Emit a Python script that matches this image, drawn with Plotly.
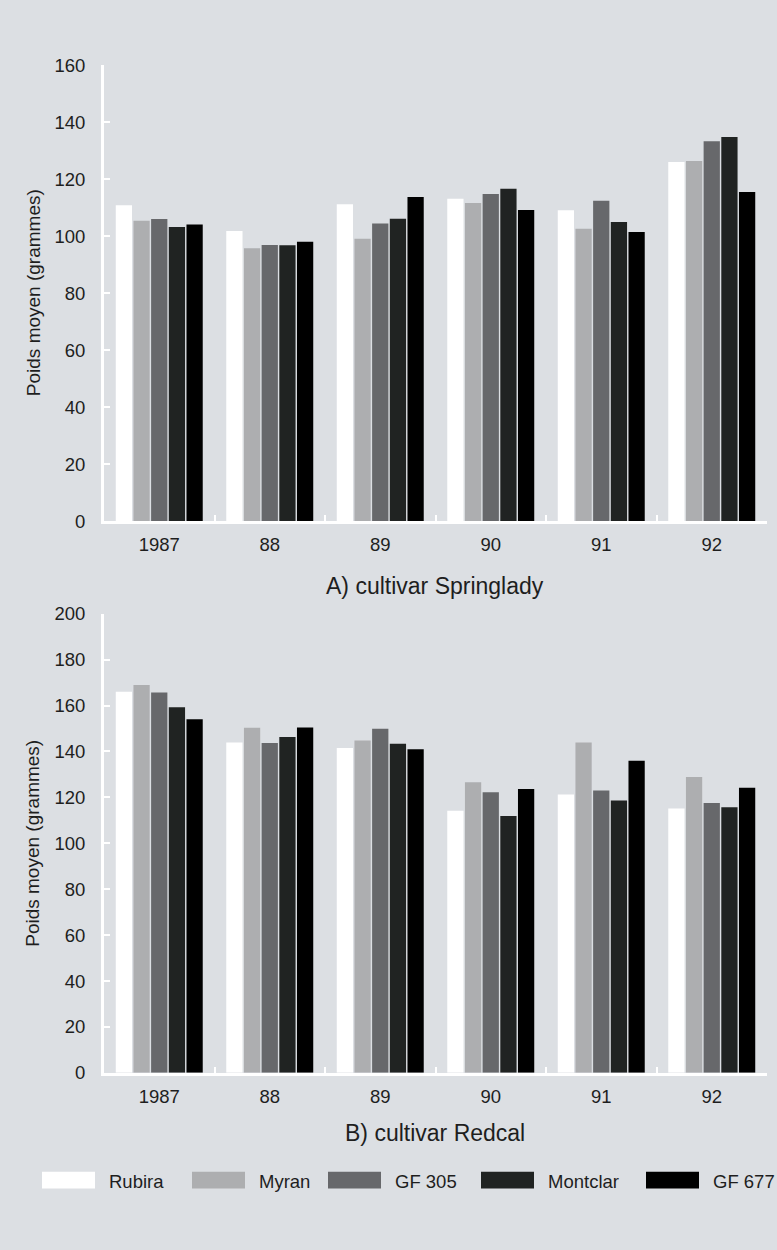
import plotly.graph_objects as go
from plotly.subplots import make_subplots

# Years (category labels on the x axis)
years = ["1987", "88", "89", "90", "91", "92"]

# Rootstocks and their fill colours
rootstocks = ["Rubira", "Myran", "GF 305", "Montclar", "GF 677"]
bar_colors = ["#ffffff", "#adaeb0", "#67686b", "#202322", "#000000"]

# A) cultivar Springlady - mean fruit weight (g)
springlady_rubira = [110.8, 101.8, 111.2, 113.1, 109.1, 126.0]
springlady_myran = [105.4, 95.8, 99.1, 111.6, 102.6, 126.4]
springlady_gf305 = [106.0, 96.9, 104.4, 114.8, 112.4, 133.3]
springlady_montclar = [103.2, 96.8, 106.1, 116.6, 105.0, 134.8]
springlady_gf677 = [104.1, 98.0, 113.7, 109.2, 101.5, 115.5]

# B) cultivar Redcal - mean fruit weight (g)
redcal_rubira = [166.0, 143.9, 141.5, 114.2, 121.3, 115.2]
redcal_myran = [168.9, 150.3, 144.8, 126.6, 143.9, 128.9]
redcal_gf305 = [165.7, 143.7, 149.9, 122.2, 123.0, 117.5]
redcal_montclar = [159.3, 146.3, 143.3, 111.9, 118.6, 115.7]
redcal_gf677 = [154.0, 150.4, 141.0, 123.6, 136.0, 124.2]

springlady = [springlady_rubira, springlady_myran, springlady_gf305,
              springlady_montclar, springlady_gf677]
redcal = [redcal_rubira, redcal_myran, redcal_gf305, redcal_montclar, redcal_gf677]

panel_titles = ["A) cultivar Springlady", "B) cultivar Redcal"]
y_title = "Poids moyen (grammes)"

W, H = 777, 1250
BG = "#dcdfe3"
TXT = "#1e1e1e"
FONT = "Liberation Sans, Arial, Helvetica, sans-serif"

fig = make_subplots(rows=2, cols=1)

for row, series in ((1, springlady), (2, redcal)):
    for name, color, vals in zip(rootstocks, bar_colors, series):
        fig.add_trace(
            go.Bar(x=years, y=vals, name=name, marker_color=color,
                   marker_line_width=0, showlegend=False),
            row=row, col=1,
        )


def px_x(p):
    return p / W


def px_y(p):
    return 1 - p / H


x_dom = [px_x(104), px_x(767)]
axis_common = dict(
    showline=True, linecolor="white", linewidth=3,
    ticks="inside", tickcolor="white", ticklen=6, tickwidth=2,
    showgrid=False, zeroline=False,
    tickfont=dict(family=FONT, size=18.5, color=TXT),
)

fig.update_xaxes(domain=x_dom, type="category", tickson="boundaries",
                 ticklabelstandoff=5, **axis_common)
fig.update_yaxes(ticklabelstandoff=12, dtick=20, **axis_common)

fig.update_layout(
    xaxis=dict(anchor="y"), yaxis=dict(domain=[px_y(519), px_y(55)], range=[0, 160]),
    xaxis2=dict(anchor="y2"), yaxis2=dict(domain=[px_y(1080), px_y(613)], range=[0, 200]),
)

annotations = []
# Panel captions
for title, yc in zip(panel_titles, (585, 1141)):
    annotations.append(dict(text=title, x=px_x(435), y=px_y(yc), xref="paper", yref="paper",
                            showarrow=False, xanchor="center", yanchor="middle",
                            font=dict(family=FONT, size=23, color=TXT)))
# Y axis titles
for yc in (287, 847):
    annotations.append(dict(text=y_title, x=px_x(33), y=px_y(yc), xref="paper", yref="paper",
                            showarrow=False, xanchor="center", yanchor="middle", textangle=-90,
                            font=dict(family=FONT, size=19, color=TXT)))

# Legend drawn as swatches + labels along the bottom
legend_swatch_x = [42, 192, 328, 481, 646]
legend_y = 1189
swatch_w, swatch_h = 53, 17
shapes = []
for name, color, x0 in zip(rootstocks, bar_colors, legend_swatch_x):
    shapes.append(dict(type="rect", xref="paper", yref="paper",
                       x0=px_x(x0), x1=px_x(x0 + swatch_w),
                       y0=px_y(legend_y + swatch_h / 2), y1=px_y(legend_y - swatch_h / 2),
                       fillcolor=color, line=dict(width=0)))
    annotations.append(dict(text=name, x=px_x(x0 + swatch_w + 12), y=px_y(legend_y + 1),
                            xref="paper", yref="paper", showarrow=False,
                            xanchor="left", yanchor="middle",
                            font=dict(family=FONT, size=18.5, color=TXT)))

fig.update_layout(
    width=W, height=H,
    margin=dict(l=0, r=0, t=0, b=0),
    paper_bgcolor=BG, plot_bgcolor=BG,
    barmode="group", bargap=0.2, bargroupgap=0.08,
    annotations=annotations, shapes=shapes,
    font=dict(family=FONT, color=TXT),
)

fig.write_html("out.html")
